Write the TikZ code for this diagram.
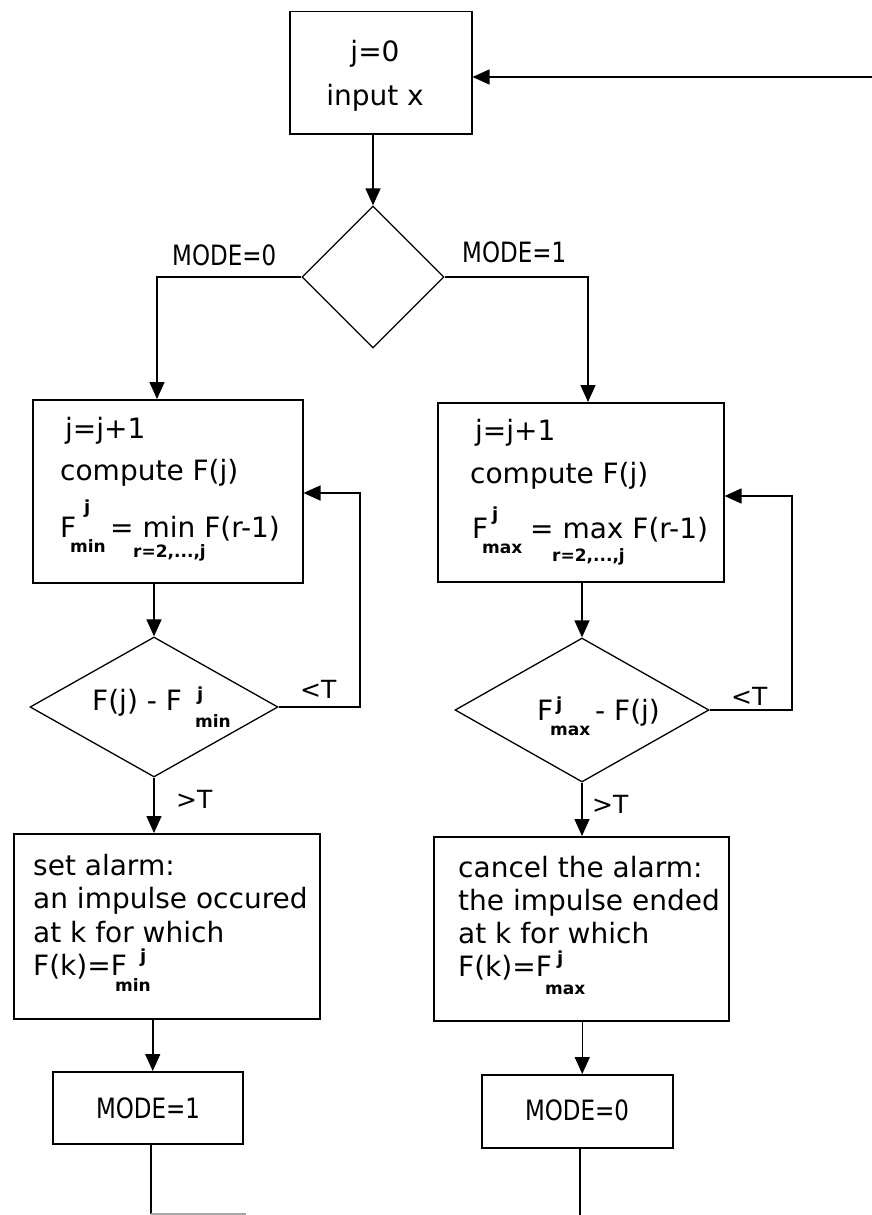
\documentclass[tikz,border=0pt]{standalone}
\usepackage{fontspec}
\setmainfont{DejaVu Sans}
\newfontfamily\narrowfont{DejaVu Sans}[FakeStretch=0.82]
\usetikzlibrary{arrows.meta,shapes.geometric,calc}
\tikzset{
  box/.style={draw, line width=1.5pt, inner sep=0pt, anchor=north west},
  dia/.style={draw, diamond, line width=1.3pt, inner sep=0pt, aspect=1},
  txt/.style={inner sep=0pt, anchor=base west, font=\fontsize{28}{33}\selectfont},
  ctxt/.style={txt, anchor=base},
  modetxt/.style={inner sep=0pt, font=\narrowfont\fontsize{28}{33}\selectfont},
  sm/.style={inner sep=0pt, anchor=base west, font=\bfseries\fontsize{17}{20}\selectfont},
  sup/.style={inner sep=0pt, anchor=base west, font=\bfseries\fontsize{18}{20}\selectfont},
  conn/.style={line width=1.5pt},
  arr/.style={conn, -{Triangle[width=15pt,length=17pt]}}
}
\begin{document}
\begin{tikzpicture}[x=1pt,y=-1pt]
\fill[white] (0,0) rectangle (872,1215);
\useasboundingbox (0,0) rectangle (872,1215);

% boxes
\node[box, minimum width=182pt, minimum height=122pt] (top) at (289,11) {};
\node[box, minimum width=270pt, minimum height=183pt] (b1L) at (32,399) {};
\node[box, minimum width=286pt, minimum height=179pt] (b1R) at (437,402) {};
\node[box, minimum width=306pt, minimum height=185pt] (aL) at (13,833) {};
\node[box, minimum width=295pt, minimum height=184pt] (aR) at (433,836) {};
\node[box, minimum width=190pt, minimum height=72pt] (m1) at (52,1071) {};
\node[box, minimum width=191pt, minimum height=73pt] (m0) at (481,1074) {};

% diamonds
\node[dia, minimum width=142pt, minimum height=142pt] (d0) at (373,277) {};
\node[dia, minimum width=248pt, minimum height=140pt] (d1L) at (154,707) {};
\node[dia, minimum width=254pt, minimum height=144pt] (d1R) at (582,710) {};

% top box text
\node[ctxt] (t0a) at (375,62) {j=0};
\node[ctxt] (t0b) at (375,105) {input x};

% left compute box
\node[txt] (l1a) at (65,438) {j=j+1};
\node[txt] (l1b) at (60,480) {compute F(j)};
\node[txt] (l1c) at (60,537) {F};
\node[sup] (l1d) at (84,513) {j};
\node[sm]  (l1e) at (70,552) {min};
\node[txt] (l1f) at (110,537) {= min F(r-1)};
\node[sm]  (l1g) at (133,557) {r=2,...,j};

% right compute box
\node[txt] (r1a) at (475,440) {j=j+1};
\node[txt] (r1b) at (470,483) {compute F(j)};
\node[txt] (r1c) at (472,538) {F};
\node[sup] (r1d) at (492,520) {j};
\node[sm]  (r1e) at (482,553) {max};
\node[txt] (r1f) at (530,538) {= max F(r-1)};
\node[sm]  (r1g) at (552,561) {r=2,...,j};

% diamond texts
\node[txt] (dl1) at (92,710) {F(j) - F};
\node[sup] (dl2) at (197,700) {j};
\node[sm]  (dl3) at (195,727) {min};
\node[txt] (dr1) at (537,720) {F};
\node[sup] (dr2) at (556,710) {j};
\node[sm]  (dr3) at (550,735) {max};
\node[txt] (dr4) at (595,720) {- F(j)};

% alarm boxes
\node[txt] (a1) at (33,875) {set alarm:};
\node[txt] (a2) at (33,908) {an impulse occured};
\node[txt] (a3) at (33,942) {at k for which};
\node[txt] (a4) at (33,975) {F(k)=F};
\node[sup] (a5) at (140,962) {j};
\node[sm]  (a6) at (115,991) {min};

\node[txt] (c1) at (458,877) {cancel the alarm:};
\node[txt] (c2) at (458,910) {the impulse ended};
\node[txt] (c3) at (458,943) {at k for which};
\node[txt] (c4) at (458,976) {F(k)=F};
\node[sup] (c5) at (557,964) {j};
\node[sm]  (c6) at (545,994) {max};

% mode boxes text
\node[modetxt, anchor=base] (m1t) at (148,1118) {MODE=1};
\node[modetxt, anchor=base] (m0t) at (577,1120) {MODE=0};

% branch labels
\node[modetxt, anchor=base west] (lm0) at (172,265) {MODE=0};
\node[modetxt, anchor=base west] (lm1) at (462,262) {MODE=1};
\node[txt, font=\fontsize{25}{30}\selectfont] (ltL) at (300,698) {<T};
\node[txt, font=\fontsize{25}{30}\selectfont] (gtL) at (176,808) {>T};
\node[txt, font=\fontsize{25}{30}\selectfont] (ltR) at (731,705) {<T};
\node[txt, font=\fontsize{25}{30}\selectfont] (gtR) at (592,813) {>T};

% coordinates for bends
\coordinate (inR) at (872,77);
\coordinate (cL) at (157,277);
\coordinate (cR) at (588,277);
\coordinate (lL) at (360,707);
\coordinate (lLt) at (360,493);
\coordinate (lR) at (792,710);
\coordinate (lRt) at (792,496);
\coordinate (eL) at (151,1214);
\coordinate (eL2) at (246,1214);
\coordinate (eR) at (580,1215);

% connectors
\draw[arr] (inR) -- (inR -| top.east);
\draw[arr] (d0.north |- top.south) -- (d0.north);
\draw[arr] (d0.west) -- (cL) -- (cL |- b1L.north);
\draw[arr] (d0.east) -- (cR) -- (cR |- b1R.north);
\draw[arr] (d1L.north |- b1L.south) -- (d1L.north);
\draw[arr] (d1R.north |- b1R.south) -- (d1R.north);
\draw[arr] (d1L.east) -- (lL) -- (lLt) -- (lLt -| b1L.east);
\draw[arr] (d1R.east) -- (lR) -- (lRt) -- (lRt -| b1R.east);
\draw[arr] (d1L.south) -- (d1L.south |- aL.north);
\draw[arr] (d1R.south) -- (d1R.south |- aR.north);
\draw[arr] ([xshift=5pt]m1.north |- aL.south) -- ([xshift=5pt]m1.north);
\draw[arr] ([xshift=5pt]m0.north |- aR.south) -- ([xshift=5pt]m0.north);
\draw[conn] (eL |- m1.south) -- (eL);
\draw[line width=1.2pt, black!35] (eL) -- (eL2);
\draw[conn] (eR |- m0.south) -- (eR);
\end{tikzpicture}
\end{document}
